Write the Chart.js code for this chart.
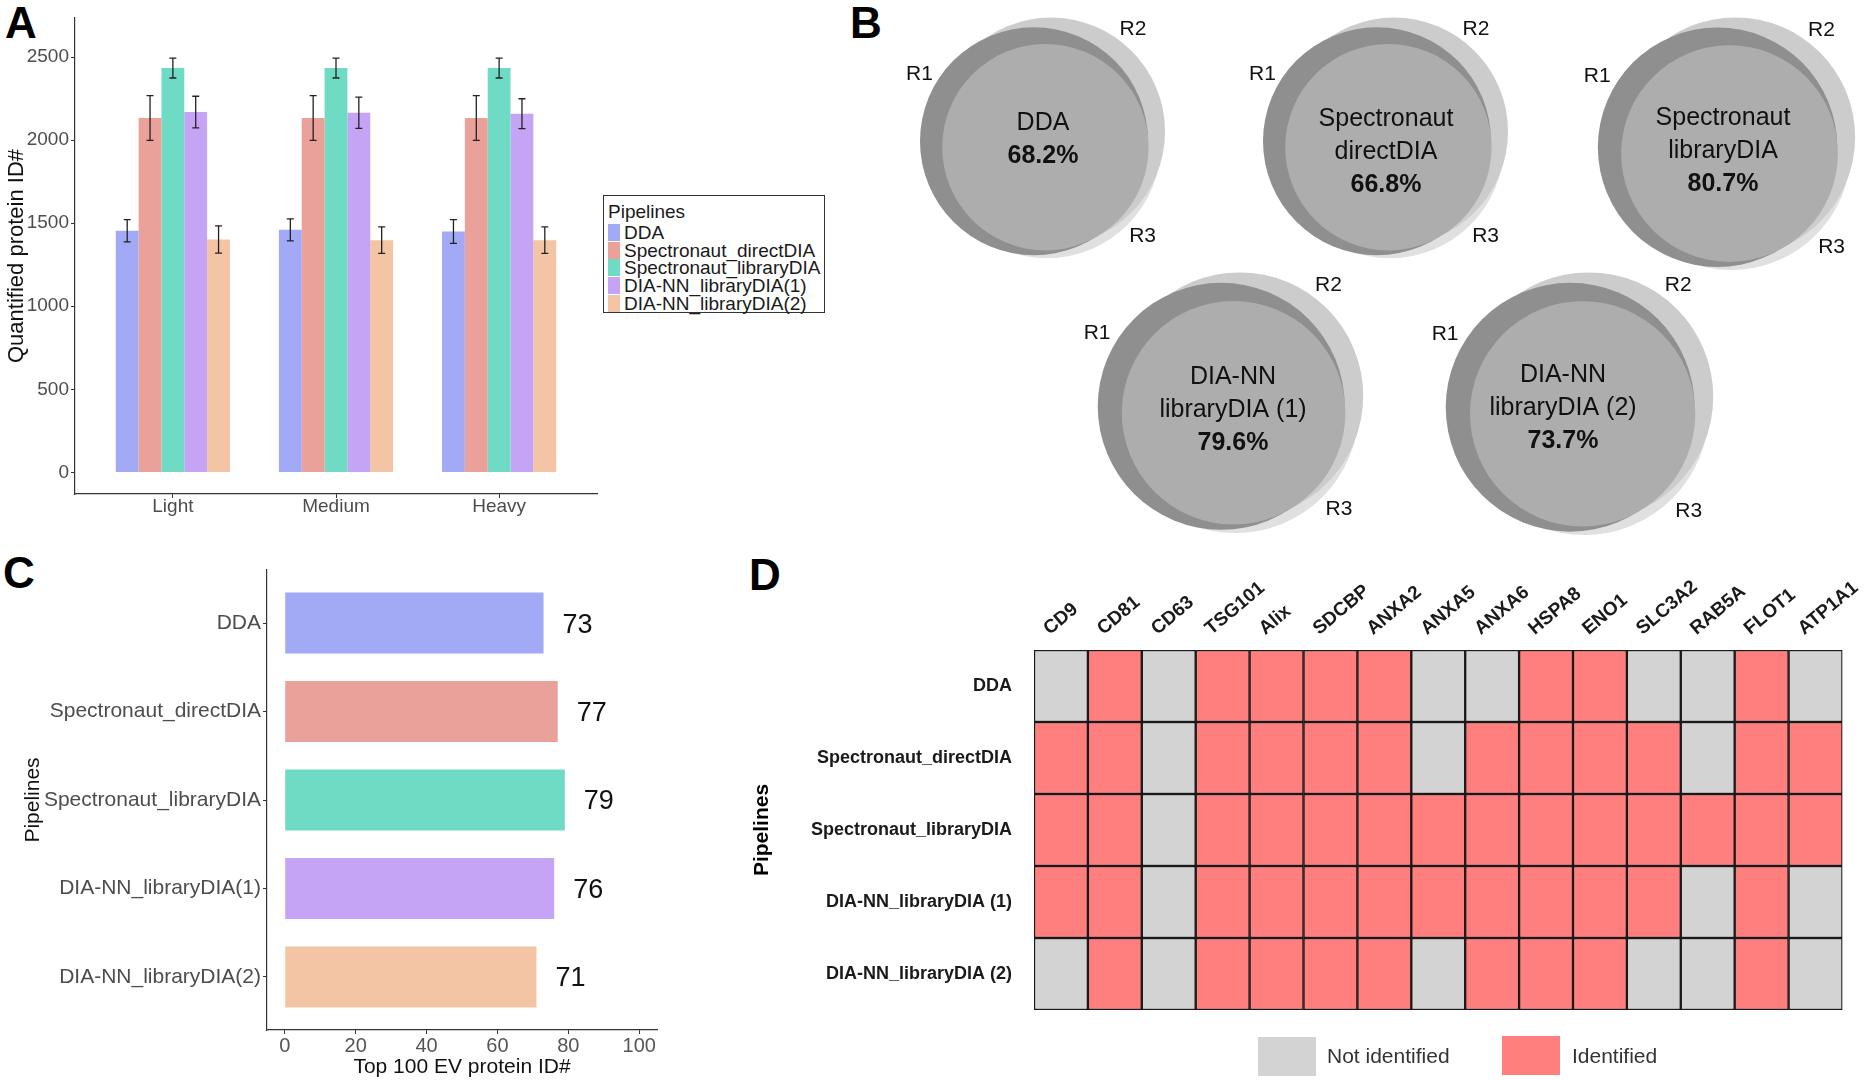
<!DOCTYPE html>
<html>
<head>
<meta charset="utf-8">
<script src="https://cdn.jsdelivr.net/npm/chart.js@4.4.1/dist/chart.umd.min.js"></script>
<style>
   body { margin: 0; background: #fff; width: 1873px; height: 1080px; position: relative; overflow: hidden; font-family: "Liberation Sans", Arial, sans-serif; }
   canvas { position: absolute; }
   .tag { position: absolute; font-weight: bold; font-size: 44px; line-height: 1; color: #000; }
   #legendA { position: absolute; left: 603px; top: 195px; width: 220px; height: 116px; border: 1.3px solid #333; color: #1a1a1a; font-size: 19px; }
   #legendA .ttl { line-height: 24px; padding: 4px 0 0 4px; }
   #legendA .row { line-height: 17.7px; height: 17.7px; padding-left: 4px; white-space: nowrap; }
   #legendA .key { display: inline-block; width: 12px; height: 17px; vertical-align: top; margin-right: 4px; }
   .lgD { position: absolute; font-size: 21px; color: #333; }
   .boxD { position: absolute; width: 58px; height: 39px; }
</style>
</head>
<body>
<div class="tag" style="left:5px;top:1px">A</div>
<div class="tag" style="left:850px;top:1px">B</div>
<div class="tag" style="left:3px;top:551px">C</div>
<div class="tag" style="left:749px;top:553px">D</div>

<canvas id="chartA" width="600" height="540" style="left:0;top:0"></canvas>
<div id="legendA"></div>
<canvas id="chartB" width="1013" height="545" style="left:860px;top:0"></canvas>
<canvas id="chartC" width="700" height="540" style="left:0;top:540px"></canvas>
<canvas id="chartD" width="1133" height="500" style="left:740px;top:540px"></canvas>

<div class="boxD" style="left:1258px;top:1037px;background:#d3d3d3"></div>
<div class="lgD" style="left:1327px;top:1044px">Not identified</div>
<div class="boxD" style="left:1502px;top:1036px;background:#ff7f7f"></div>
<div class="lgD" style="left:1572px;top:1044px">Identified</div>

<script>
// ---- data ----
const pipelines = ["DDA", "Spectronaut_directDIA", "Spectronaut_libraryDIA", "DIA-NN_libraryDIA(1)", "DIA-NN_libraryDIA(2)"];
const pipeColors = ["#a2aaf6", "#eaa199", "#70dbc5", "#c6a4f5", "#f3c5a5"];

// A: quantified protein IDs (mean, error)
const categories = ["Light", "Medium", "Heavy"];
const ddaMean = [1454, 1460, 1450];
const ddaErr = [67, 66, 72];
const directMean = [2133, 2133, 2133];
const directErr = [135, 135, 135];
const libraryMean = [2434, 2434, 2434];
const libraryErr = [60, 60, 60];
const dia1Mean = [2169, 2165, 2159];
const dia1Err = [95, 94, 90];
const dia2Mean = [1402, 1398, 1398];
const dia2Err = [82, 80, 80];
const yTicksA = [0, 500, 1000, 1500, 2000, 2500];

// B: overlap of the three replicates
const vennNames = [["DDA"], ["Spectronaut", "directDIA"], ["Spectronaut", "libraryDIA"], ["DIA-NN", "libraryDIA (1)"], ["DIA-NN", "libraryDIA (2)"]];
const vennOverlap = [68.2, 66.8, 80.7, 79.6, 73.7];
const replicates = ["R1", "R2", "R3"];

// C: top 100 EV proteins
const top100 = [73, 77, 79, 76, 71];
const xTicksC = [0, 20, 40, 60, 80, 100];

// D: marker identification (1 = identified)
const proteins = ["CD9", "CD81", "CD63", "TSG101", "Alix", "SDCBP", "ANXA2", "ANXA5", "ANXA6", "HSPA8", "ENO1", "SLC3A2", "RAB5A", "FLOT1", "ATP1A1"];
const heatRows = ["DDA", "Spectronaut_directDIA", "Spectronaut_libraryDIA", "DIA-NN_libraryDIA (1)", "DIA-NN_libraryDIA (2)"];
const heatDDA     = [0, 1, 0, 1, 1, 1, 1, 0, 0, 1, 1, 0, 0, 1, 0];
const heatDirect  = [1, 1, 0, 1, 1, 1, 1, 0, 1, 1, 1, 1, 0, 1, 1];
const heatLibrary = [1, 1, 0, 1, 1, 1, 1, 1, 1, 1, 1, 1, 1, 1, 1];
const heatDia1    = [1, 1, 0, 1, 1, 1, 1, 1, 1, 1, 1, 1, 0, 1, 0];
const heatDia2    = [0, 1, 0, 1, 1, 1, 1, 0, 1, 1, 1, 0, 0, 1, 0];

Chart.defaults.font.family = '"Liberation Sans", Arial, sans-serif';
Chart.defaults.animation = false;
Chart.defaults.responsive = false;
Chart.defaults.events = [];
Chart.defaults.plugins.legend.display = false;
Chart.defaults.plugins.tooltip.enabled = false;

const axisGrey = "#4d4d4d";

// ---- A ----
const meansA = [ddaMean, directMean, libraryMean, dia1Mean, dia2Mean];
const errsA = [ddaErr, directErr, libraryErr, dia1Err, dia2Err];

const errorBars = {
   id: "errorBars",
   afterDatasetsDraw(chart) {
      const ctx = chart.ctx;
      const y = chart.scales.y;
      chart.data.datasets.forEach((ds, i) => {
         chart.getDatasetMeta(i).data.forEach((bar, j) => {
            const v = ds.data[j].y;
            const top = y.getPixelForValue(v + ds.errors[j]);
            const bot = y.getPixelForValue(v - ds.errors[j]);
            ctx.save();
            ctx.strokeStyle = "#222";
            ctx.lineWidth = 1.3;
            ctx.beginPath();
            ctx.moveTo(bar.x, top); ctx.lineTo(bar.x, bot);
            ctx.moveTo(bar.x - 3.5, top); ctx.lineTo(bar.x + 3.5, top);
            ctx.moveTo(bar.x - 3.5, bot); ctx.lineTo(bar.x + 3.5, bot);
            ctx.stroke();
            ctx.restore();
         });
      });
   },
};

new Chart(document.getElementById("chartA"), {
   type: "bar",
   data: {
      datasets: pipelines.map((p, i) => ({
         label: p,
         data: meansA[i].map((v, j) => ({ x: j + 1, y: v })),
         errors: errsA[i],
         backgroundColor: pipeColors[i],
         borderWidth: 0,
         categoryPercentage: 0.7,
         barPercentage: 1,
      })),
   },
   options: {
      layout: { padding: { top: 18, right: 3, left: 0, bottom: 0 } },
      scales: {
         x: {
            type: "linear", min: 0.4, max: 3.6, offset: false,
            afterBuildTicks: (s) => { s.ticks = categories.map((c, i) => ({ value: i + 1 })); },
            afterFit: (s) => { s.height = 46; },
            ticks: { callback: (v) => categories[v - 1], color: axisGrey, font: { size: 19 }, padding: -3 },
            grid: { offset: false, drawOnChartArea: false, tickLength: 4, tickColor: "#333" },
            border: { color: "#333", width: 1.2 },
         },
         y: {
            min: -130, max: 2735,
            afterBuildTicks: (s) => { s.ticks = yTicksA.map((v) => ({ value: v })); },
            afterFit: (s) => { s.width = 75; },
            ticks: { callback: (v) => String(v), color: axisGrey, font: { size: 19 }, padding: 2 },
            grid: { drawOnChartArea: false, tickLength: 4, tickColor: "#333" },
            border: { color: "#333", width: 1.2 },
            title: { display: true, text: "Quantified protein ID#", color: "#111", font: { size: 22 }, padding: { top: 4, bottom: 0 } },
         },
      },
   },
   plugins: [errorBars],
});

// legend A
const legA = document.getElementById("legendA");
legA.innerHTML = '<div class="ttl">Pipelines</div>' +
   pipelines.map((p, i) => `<div class="row"><span class="key" style="background:${pipeColors[i]}"></span>${p}</div>`).join("");

// ---- B ----
const vennLayout = [
   { cx: 1043, cy: 140, R: 120, tdx: 0, tdy: 0 },
   { cx: 1386, cy: 140, R: 120, tdx: 0, tdy: 12 },
   { cx: 1727, cy: 146, R: 126, tdx: -4, tdy: 5 },
   { cx: 1231, cy: 405, R: 130, tdx: 2, tdy: 5 },
   { cx: 1580, cy: 406, R: 131, tdx: -17, tdy: 2 },
];
const offB = 860;
// circle shapes relative to the venn size, top-most first: overlap, R1, R2, R3
const vennShapes = [
   { dx: 0.02, dy: 0.06, r: 0.86, color: "#adadad" },
   { dx: -0.075, dy: 0.01, r: 0.95, color: "#8f8f8f" },
   { dx: 0.067, dy: -0.07, r: 0.95, color: "#cccccc" },
   { dx: 0.033, dy: 0.035, r: 0.95, color: "#e0e0e0" },
];
const repLabelPos = [[-1.03, -0.55], [0.75, -0.92], [0.83, 0.8]];

const vennText = {
   id: "vennText",
   afterDatasetsDraw(chart) {
      const ctx = chart.ctx;
      const xs = chart.scales.x, ys = chart.scales.y;
      ctx.save();
      ctx.fillStyle = "#111";
      ctx.textAlign = "center";
      ctx.textBaseline = "middle";
      vennLayout.forEach((v, i) => {
         const cx = xs.getPixelForValue(v.cx - offB);
         const cy = ys.getPixelForValue(v.cy);
         ctx.font = '21px "Liberation Sans", Arial, sans-serif';
         replicates.forEach((r, k) => {
            ctx.fillText(r, cx + repLabelPos[k][0] * v.R, cy + repLabelPos[k][1] * v.R);
         });
         const lines = vennNames[i];
         const n = lines.length + 1;
         const tx = cx + v.tdx;
         const y0 = cy + v.tdy - ((n - 1) * 33) / 2;
         ctx.font = '25px "Liberation Sans", Arial, sans-serif';
         lines.forEach((t, k) => ctx.fillText(t, tx, y0 + k * 33));
         ctx.font = 'bold 25px "Liberation Sans", Arial, sans-serif';
         ctx.fillText(vennOverlap[i].toFixed(1) + "%", tx, y0 + lines.length * 33);
      });
      ctx.restore();
   },
};

new Chart(document.getElementById("chartB"), {
   type: "bubble",
   data: {
      datasets: vennShapes.map((s) => ({
         data: vennLayout.map((v) => ({ x: v.cx - offB + s.dx * v.R, y: v.cy + s.dy * v.R, r: s.r * v.R })),
         backgroundColor: s.color,
         borderWidth: 0,
         clip: false,
      })),
   },
   options: {
      layout: { padding: 0, autoPadding: false },
      scales: {
         x: { type: "linear", min: 0, max: 1013, display: false },
         y: { type: "linear", min: 0, max: 545, reverse: true, display: false },
      },
   },
   plugins: [vennText],
});

// ---- C ----
const valueLabels = {
   id: "valueLabels",
   afterDatasetsDraw(chart) {
      const ctx = chart.ctx;
      ctx.save();
      ctx.fillStyle = "#111";
      ctx.font = '27px "Liberation Sans", Arial, sans-serif';
      ctx.textAlign = "left";
      ctx.textBaseline = "middle";
      chart.getDatasetMeta(0).data.forEach((bar, i) => {
         ctx.fillText(String(top100[i]), bar.x + 19, bar.y + 2);
      });
      ctx.restore();
   },
};

new Chart(document.getElementById("chartC"), {
   type: "bar",
   data: {
      datasets: [{
         data: top100.map((v, i) => ({ x: v, y: i + 1 })),
         backgroundColor: pipeColors,
         borderWidth: 0,
         categoryPercentage: 0.69,
         barPercentage: 1,
      }],
   },
   options: {
      indexAxis: "y",
      layout: { padding: { top: 30, right: 43, left: 0, bottom: 0 } },
      scales: {
         y: {
            type: "linear", min: 0.4, max: 5.6, reverse: true, offset: false,
            afterBuildTicks: (s) => { s.ticks = pipelines.map((p, i) => ({ value: i + 1 })); },
            afterFit: (s) => { s.width = 267; },
            ticks: { callback: (v) => pipelines[v - 1], color: axisGrey, font: { size: 21 }, padding: 2 },
            grid: { offset: false, drawOnChartArea: false, tickLength: 4, tickColor: "#333" },
            border: { color: "#333", width: 1.2 },
            title: { display: true, text: "Pipelines", color: "#111", font: { size: 21 }, padding: { top: 21, bottom: 0 } },
         },
         x: {
            type: "linear", min: -5, max: 105,
            afterBuildTicks: (s) => { s.ticks = xTicksC.map((v) => ({ value: v })); },
            afterFit: (s) => { s.height = 50; },
            ticks: { color: "#555", font: { size: 20 }, padding: 0 },
            grid: { drawOnChartArea: false, tickLength: 4, tickColor: "#333" },
            border: { color: "#333", width: 1.2 },
            title: { display: true, text: "Top 100 EV protein ID#", color: "#111", font: { size: 21 }, padding: { top: 0, bottom: 0 } },
         },
      },
   },
   plugins: [valueLabels],
});

// ---- D ----
const heatMatrix = [heatDDA, heatDirect, heatLibrary, heatDia1, heatDia2];

new Chart(document.getElementById("chartD"), {
   type: "bar",
   data: {
      datasets: proteins.map((p, j) => ({
         label: p,
         data: heatRows.map(() => 1),
         backgroundColor: (c) => (heatMatrix[c.dataIndex][j] ? "#ff7f7f" : "#d3d3d3"),
         borderColor: "#1a1a1a",
         borderWidth: 1.5,
         borderSkipped: false,
         categoryPercentage: 1,
         barPercentage: 1,
      })),
   },
   options: {
      indexAxis: "y",
      layout: { padding: { top: 0, right: 22, left: 0, bottom: 30 } },
      scales: {
         x: {
            type: "linear", position: "top", min: 0, max: 15, stacked: true,
            afterBuildTicks: (s) => { s.ticks = proteins.map((p, i) => ({ value: i + 0.5 })); },
            afterFit: (s) => { s.height = 110; },
            ticks: { autoSkip: false, minRotation: 40, maxRotation: 40, callback: (v) => proteins[Math.floor(v)], color: "#1a1a1a", font: { size: 19, weight: "bold" }, padding: 2 },
            grid: { display: false },
            border: { display: false },
         },
         y: {
            type: "category", labels: heatRows, stacked: true, offset: true,
            afterFit: (s) => { s.width = 294; },
            ticks: { color: "#1a1a1a", font: { size: 18, weight: "bold" }, padding: 14 },
            grid: { display: false },
            border: { display: false },
            title: { display: true, text: "Pipelines", color: "#000", font: { size: 21, weight: "bold" }, padding: { top: 10, bottom: 0 } },
         },
      },
   },
});
</script>
</body>
</html>
